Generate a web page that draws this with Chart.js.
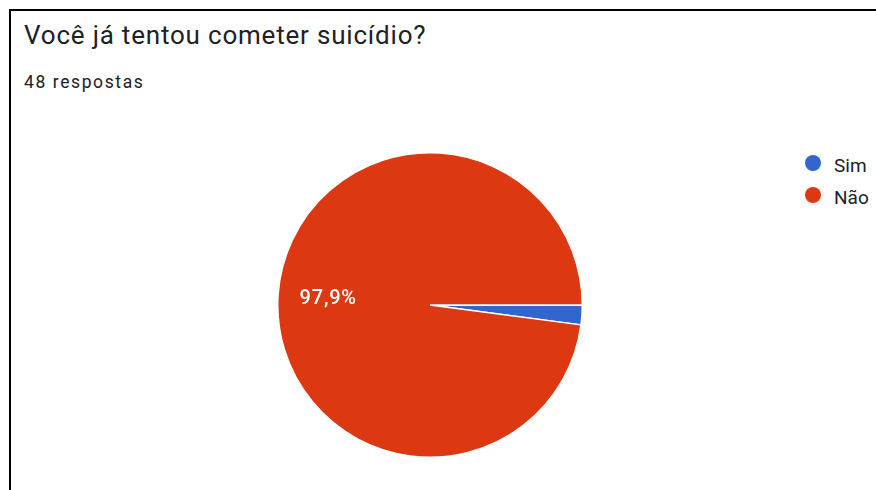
<!DOCTYPE html>
<html>
<head>
<meta charset="utf-8">
<script src="https://cdn.jsdelivr.net/npm/chart.js@4.4.0/dist/chart.umd.min.js"></script>
<style>
  html, body { margin: 0; padding: 0; background: #fff; }
  body { width: 876px; height: 490px; position: relative; overflow: hidden; font-family: Roboto, Arial, sans-serif; color: #202124; }
  .frame { position: absolute; left: 9px; top: 9px; width: 900px; height: 500px; border-left: 2px solid #000; border-top: 2px solid #000; }
  .title { position: absolute; left: 24px; top: 22px; font-size: 26px; line-height: 26px; letter-spacing: 0.8px; white-space: nowrap; }
  .sub { position: absolute; left: 24px; top: 74px; font-size: 17.5px; line-height: 17.5px; letter-spacing: 1.6px; white-space: nowrap; }
  #wrap { position: absolute; left: 276px; top: 151px; width: 308px; height: 308px; }
  .dot { position: absolute; width: 16px; height: 16px; border-radius: 50%; }
  .ltxt { position: absolute; font-size: 19px; line-height: 19px; white-space: nowrap; }
</style>
</head>
<body>
<div class="frame"></div>
<div class="title">Você já tentou cometer suicídio?</div>
<div class="sub">48 respostas</div>
<div id="wrap"><canvas id="chart"></canvas></div>
<div id="legend"></div>
<script>
// answers and their counts
const labels = ['Sim', 'Não']
const counts = [1, 47]
const colors = ['#3366cc', '#dc3912']

const total = counts.reduce((a, b) => a + b, 0)

// legend as plain html, one row every 32px
const leg = document.getElementById('legend')
labels.forEach((l, i) => {
  const cy = 163 + i * 32
  const dot = document.createElement('div')
  dot.className = 'dot'
  dot.style.left = (813 - 8) + 'px'
  dot.style.top = (cy - 8) + 'px'
  dot.style.background = colors[i]
  leg.appendChild(dot)
  const t = document.createElement('div')
  t.className = 'ltxt'
  t.style.left = '834px'
  t.style.top = (cy + 9 - 16) + 'px'
  t.textContent = l
  leg.appendChild(t)
})

// percentage labels inside the slices (only the big ones)
const sliceLabels = {
  id: 'sliceLabels',
  afterDatasetsDraw(chart) {
    const ctx = chart.ctx
    const meta = chart.getDatasetMeta(0)
    meta.data.forEach((arc, i) => {
      const pct = counts[i] / total * 100
      if (pct < 5) return
      const mid = (arc.startAngle + arc.endAngle) / 2
      const r = arc.outerRadius * 0.67
      const x = arc.x + Math.cos(mid) * r
      const y = arc.y + Math.sin(mid) * r
      ctx.save()
      ctx.fillStyle = '#fff'
      ctx.font = '500 20px Roboto, Arial, sans-serif'
      ctx.letterSpacing = '0.8px'
      ctx.textAlign = 'center'
      ctx.textBaseline = 'middle'
      ctx.fillText(pct.toFixed(1).replace('.', ',') + '%', x, y + 1)
      ctx.restore()
    })
  }
}

new Chart(document.getElementById('chart'), {
  type: 'pie',
  data: {
    labels: labels,
    datasets: [{
      data: counts,
      backgroundColor: colors,
      borderColor: '#fff',
      borderWidth: 1.5,
      hoverOffset: 0
    }]
  },
  options: {
    responsive: true,
    maintainAspectRatio: false,
    animation: false,
    rotation: 90,
    layout: { padding: 1 },
    plugins: {
      legend: { display: false },
      tooltip: { enabled: false }
    }
  },
  plugins: [sliceLabels]
})
</script>
</body>
</html>
